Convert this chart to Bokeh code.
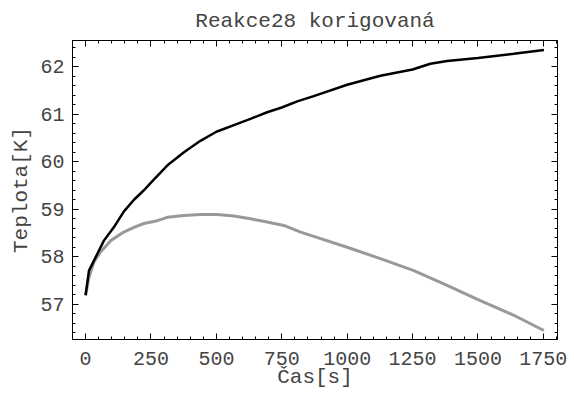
from bokeh.plotting import figure
from bokeh.models import LinearAxis, Range1d, SingleIntervalTicker, CustomJSTickFormatter
from bokeh.embed import file_html
from bokeh.resources import INLINE

# Black series (Teplota vs Čas)
time_black = [0, 13, 32, 70, 108, 146, 185, 223, 250, 312, 376, 439, 500, 567, 630,
              694, 750, 809, 872, 1000, 1127, 1250, 1318, 1382, 1500, 1637, 1752]
temp_black = [57.19, 57.71, 57.92, 58.34, 58.62, 58.95, 59.20, 59.40, 59.56, 59.92, 60.20,
              60.44, 60.63, 60.77, 60.90, 61.04, 61.14, 61.27, 61.38, 61.62, 61.81, 61.94,
              62.06, 62.12, 62.18, 62.27, 62.35]

# Grey series
time_gray = [0, 13, 32, 57, 96, 146, 185, 223, 274, 312, 376, 439, 503, 567, 630,
             694, 758, 822, 872, 1000, 1127, 1255, 1382, 1509, 1637, 1752]
temp_gray = [57.19, 57.57, 57.89, 58.10, 58.34, 58.52, 58.62, 58.70, 58.76, 58.83, 58.87,
             58.89, 58.89, 58.86, 58.80, 58.73, 58.66, 58.52, 58.43, 58.20, 57.96, 57.71,
             57.40, 57.08, 56.77, 56.45]

title_text = "Reakce28 korigovaná"
x_label = "Čas[s]"
y_label = "Teplota[K]"

FONT = "Liberation Mono"
TXT = "#444444"

p = figure(width=574, height=396, output_backend="svg", toolbar_location=None,
           x_range=Range1d(-50, 1804), y_range=Range1d(56.26, 62.55),
           min_border_left=72, min_border_right=17, min_border_top=40, min_border_bottom=57,
           background_fill_color="white", border_fill_color="white")
p.xaxis.visible = False
p.yaxis.visible = False
p.xgrid.visible = False
p.ygrid.visible = False
p.outline_line_color = "black"
p.outline_line_width = 1

p.title.text = title_text
p.title.align = "center"
p.title.text_font = FONT
p.title.text_font_size = "21px"
p.title.text_font_style = "normal"
p.title.text_color = TXT
p.title.standoff = 15


def make_axis(ticker, labels=True, label=None):
    ax = LinearAxis(ticker=ticker)
    ax.axis_line_color = "black"
    ax.major_tick_line_color = "black"
    ax.minor_tick_line_color = "black"
    ax.major_tick_in = 6
    ax.major_tick_out = 0
    ax.minor_tick_in = 3
    ax.minor_tick_out = 0
    if labels:
        ax.major_label_text_font = FONT
        ax.major_label_text_font_size = "20px"
        ax.major_label_text_color = TXT
    else:
        ax.formatter = CustomJSTickFormatter(code="return ''")
        ax.major_label_standoff = 0
    if label:
        ax.axis_label = label
        ax.axis_label_text_font = FONT
        ax.axis_label_text_font_size = "21px"
        ax.axis_label_text_font_style = "normal"
        ax.axis_label_text_color = TXT
    return ax


xt = SingleIntervalTicker(interval=250, num_minor_ticks=5)
yt = SingleIntervalTicker(interval=1, num_minor_ticks=5)

bx = make_axis(xt, True, x_label)
bx.major_label_standoff = 12
bx.axis_label_standoff = -2
p.add_layout(bx, "below")

ly = make_axis(yt, True, y_label)
ly.major_label_standoff = 8
ly.axis_label_standoff = 4
p.add_layout(ly, "left")

p.add_layout(make_axis(SingleIntervalTicker(interval=250, num_minor_ticks=5), False), "above")
p.add_layout(make_axis(SingleIntervalTicker(interval=1, num_minor_ticks=5), False), "right")

p.line(time_gray, temp_gray, line_color="#999999", line_width=3)
p.line(time_black, temp_black, line_color="black", line_width=2.5)

open("out.html", "w").write(file_html(p, INLINE))
